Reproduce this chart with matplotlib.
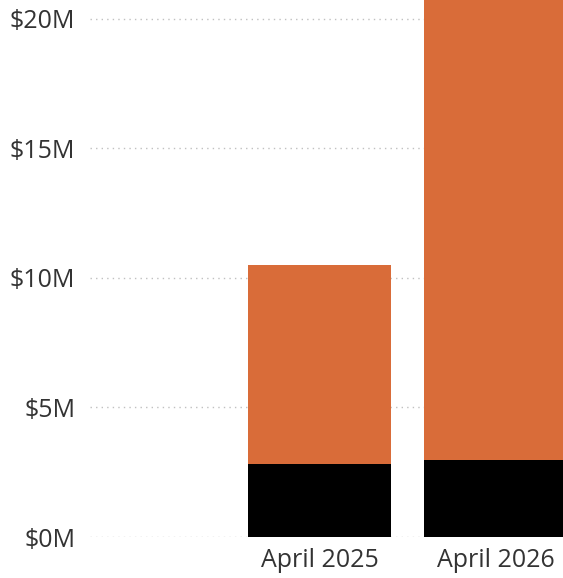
import numpy as np
import matplotlib
matplotlib.use('Agg')
import matplotlib.pyplot as plt

# values in $M
months = ['April 2025', 'April 2026']
base_vals = [2.82, 2.97]        # black segment
top_vals = [7.68, 17.75]        # orange segment stacked on top
y_ticks = [0, 5, 10, 15, 20]
y_labels = ['$0M', '$5M', '$10M', '$15M', '$20M']

plt.rcParams['font.family'] = ['Open Sans', 'DejaVu Sans']

fig = plt.figure(figsize=(5.63, 5.78), dpi=100)
ax = fig.add_axes([0.16, 0.0709, 0.84, 0.9291])

x = np.arange(len(months))
w = 0.8125
ax.bar(x, base_vals, width=w, color='#000000', zorder=3)
ax.bar(x, top_vals, width=w, bottom=base_vals, color='#D96C39', zorder=3)

ax.set_xlim(-1.304, 1.383)
ax.set_ylim(0, 20.73)
ax.set_yticks(y_ticks)
ax.set_yticklabels(y_labels)
ax.set_xticks(x)
ax.set_xticklabels(months)
ax.tick_params(axis='both', length=0, labelsize=18, colors='#333333')
ax.tick_params(axis='y', pad=10.5)
ax.tick_params(axis='x', pad=8)

ax.yaxis.grid(True, linestyle=(0, (1, 3)), color='#c0c0c0', linewidth=1, zorder=0)
for s in ax.spines.values():
    s.set_visible(False)

fig.savefig('out.png', dpi=100)
